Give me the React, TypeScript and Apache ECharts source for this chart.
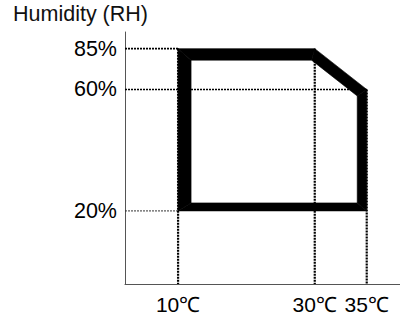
import React, { useEffect, useRef } from "react";
import * as echarts from "echarts";

// ---- data ----
const temps = [10, 30, 35];
const humidities = [20, 60, 85];
const tempLabels = ["10℃", "30℃", "35℃"];
const humidLabels = ["20%", "60%", "85%"];
// operating envelope (temperature ℃, humidity %RH)
const envelopeTemp = [10, 10, 30, 35, 35];
const envelopeHumid = [20, 85, 85, 60, 20];
const yAxisTitle = "Humidity (RH)";

// ---- layout: the axes are schematic (not linear); tick positions as axis fractions ----
const tempAxisPos = [0.193, 0.69, 0.879];
const humidAxisPos = [0.29, 0.772, 0.934];
// stroke thickness for each envelope edge (left, top, diagonal, right, bottom)
const edgeWidths = [13, 11.5, 11, 9.5, 8];
const FONT = "'Liberation Sans', Arial, sans-serif";

function interp(v: number, keys: number[], pos: number[]): number {
  if (v <= keys[0]) return pos[0];
  for (let i = 1; i < keys.length; i++) {
    if (v <= keys[i]) {
      const f = (v - keys[i - 1]) / (keys[i] - keys[i - 1]);
      return pos[i - 1] + f * (pos[i] - pos[i - 1]);
    }
  }
  return pos[pos.length - 1];
}
const px = (t: number) => interp(t, temps, tempAxisPos);
const py = (h: number) => interp(h, humidities, humidAxisPos);

function nearestLabel(v: number, pos: number[], labels: string[]) {
  let best = 0;
  for (let i = 1; i < pos.length; i++) if (Math.abs(pos[i] - v) < Math.abs(pos[best] - v)) best = i;
  return labels[best];
}

export default function App() {
  const ref = useRef<HTMLDivElement>(null);
  useEffect(() => {
    if (!ref.current) return;
    const chart = echarts.init(ref.current, null, { renderer: "svg" });
    const n = envelopeTemp.length;
    const verts = envelopeTemp.map((t, i) => [px(t), py(envelopeHumid[i])]);

    const hGuides = humidities.map((h) => {
      let minT = Infinity;
      envelopeHumid.forEach((eh, i) => { if (eh === h) minT = Math.min(minT, envelopeTemp[i]); });
      return [[0, py(h)], [px(minT), py(h)]];
    });
    const vGuides = temps.map((t) => {
      let maxH = -Infinity;
      envelopeTemp.forEach((et, i) => { if (et === t) maxH = Math.max(maxH, envelopeHumid[i]); });
      return [[px(t), py(maxH)], [px(t), 0]];
    });

    const series: any[] = [];
    hGuides.forEach((d, i) => {
      const thin = humidities[i] === 20;
      series.push({
        type: "line", data: d, symbol: "none", silent: true, z: 3,
        lineStyle: { color: thin ? "#333" : "#000", width: thin ? 1 : 1.6, type: [2, 1] },
      });
    });
    vGuides.forEach((d) => {
      series.push({
        type: "line", data: d, symbol: "none", silent: true, z: 3,
        lineStyle: { color: "#000", width: 2.2, type: [2, 1] },
      });
    });
    series.push({
      type: "custom",
      coordinateSystem: "cartesian2d",
      data: [[0, 0]],
      z: 4,
      clip: false,
      renderItem: (_params: any, api: any) => {
        const P = verts.map((v) => api.coord(v));
        const dirs: number[][] = [];
        const norms: number[][] = [];
        for (let i = 0; i < n; i++) {
          const a = P[i], b = P[(i + 1) % n];
          const dx = b[0] - a[0], dy = b[1] - a[1];
          const L = Math.hypot(dx, dy) || 1;
          dirs.push([dx / L, dy / L]);
          norms.push([-dy / L, dx / L]);
        }
        const Q: number[][] = [];
        for (let i = 0; i < n; i++) {
          const j = (i - 1 + n) % n;
          const A1 = [P[j][0] + norms[j][0] * edgeWidths[j], P[j][1] + norms[j][1] * edgeWidths[j]];
          const A2 = [P[i][0] + norms[i][0] * edgeWidths[i], P[i][1] + norms[i][1] * edgeWidths[i]];
          const d1 = dirs[j], d2 = dirs[i];
          const den = d1[0] * d2[1] - d1[1] * d2[0];
          if (Math.abs(den) < 1e-9) { Q.push(A2); continue; }
          const s = ((A2[0] - A1[0]) * d2[1] - (A2[1] - A1[1]) * d2[0]) / den;
          Q.push([A1[0] + s * d1[0], A1[1] + s * d1[1]]);
        }
        const children = [];
        for (let i = 0; i < n; i++) {
          const k = (i + 1) % n;
          children.push({
            type: "polygon",
            shape: { points: [P[i], P[k], Q[k], Q[i]] },
            style: { fill: "#000", stroke: "#000", lineWidth: 0.6 },
          });
        }
        return { type: "group", children };
      },
    });

    chart.setOption({
      animation: false,
      backgroundColor: "#fff",
      grid: { left: 125, right: 0, top: 32, bottom: 32, containLabel: false },
      xAxis: {
        type: "value", min: 0, max: 1,
        axisLine: { show: true, lineStyle: { color: "#555", width: 1 } },
        axisTick: { show: false },
        splitLine: { show: false },
        axisLabel: {
          customValues: tempAxisPos,
          formatter: (v: number) => nearestLabel(v, tempAxisPos, tempLabels),
          color: "#000", fontSize: 21, fontFamily: FONT,
          margin: 10,
        },
      },
      yAxis: {
        type: "value", min: 0, max: 1,
        axisLine: { show: true, lineStyle: { color: "#555", width: 1 } },
        axisTick: { show: false },
        splitLine: { show: false },
        axisLabel: {
          customValues: humidAxisPos,
          formatter: (v: number) => nearestLabel(v, humidAxisPos, humidLabels),
          color: "#000", fontSize: 21.5, fontFamily: FONT,
          margin: 8,
        },
      },
      graphic: [
        {
          type: "text", left: 13, top: 3,
          style: { text: yAxisTitle, fill: "#111", fontSize: 21.5, fontFamily: FONT },
        },
      ],
      series,
    });
    return () => chart.dispose();
  }, []);
  return <div ref={ref} style={{ width: 400, height: 316, position: "absolute", left: 0, top: 0 }} />;
}
